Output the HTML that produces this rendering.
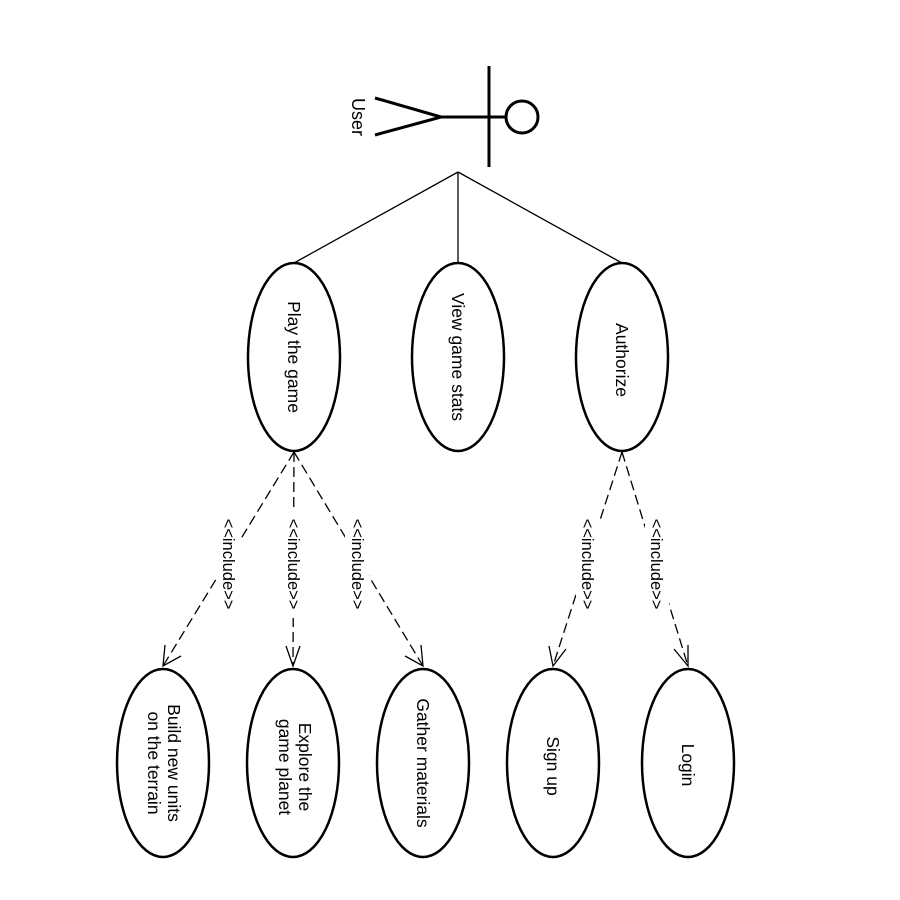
<!DOCTYPE html>
<html><head><style>body{margin:0;background:#fff}svg{display:block}</style></head><body>
<svg width="900" height="900" viewBox="0 0 900 900" xmlns="http://www.w3.org/2000/svg" font-family="Liberation Sans, sans-serif" font-size="17.5">
<rect width="900" height="900" fill="#fff"/>
<g stroke="#000" stroke-width="3" fill="none">
<circle cx="522" cy="117" r="16"/>
<line x1="441" y1="117" x2="506" y2="117"/>
<line x1="489" y1="66" x2="489" y2="167"/>
<line x1="441" y1="117" x2="375" y2="98"/>
<line x1="441" y1="117" x2="375" y2="135"/>
</g>
<text transform="translate(352,117) rotate(90)" text-anchor="middle" font-size="18">User</text>
<g stroke="#000" stroke-width="1.3">
<line x1="458" y1="172" x2="294" y2="263"/>
<line x1="458" y1="172" x2="458" y2="263"/>
<line x1="458" y1="172" x2="622" y2="263"/>
</g>
<g stroke="#000" stroke-width="2.5" fill="#fff">
<ellipse cx="294" cy="357" rx="46" ry="94"/>
<ellipse cx="458" cy="357" rx="46" ry="94"/>
<ellipse cx="622" cy="357" rx="46" ry="94"/>
<ellipse cx="163" cy="763" rx="46" ry="94"/>
<ellipse cx="293" cy="763" rx="46" ry="94"/>
<ellipse cx="423" cy="763" rx="46" ry="94"/>
<ellipse cx="553" cy="763" rx="46" ry="94"/>
<ellipse cx="688" cy="763" rx="46" ry="94"/>
</g>
<g stroke="#000" stroke-width="1.3" stroke-dasharray="10,5" fill="none">
<line x1="294" y1="452" x2="163" y2="666"/>
<line x1="294" y1="452" x2="293" y2="666"/>
<line x1="294" y1="452" x2="423" y2="666"/>
<line x1="622" y1="452" x2="553" y2="666"/>
<line x1="622" y1="452" x2="688" y2="666"/>
</g>
<g fill="#fff">
<rect x="217" y="510" width="24" height="108"/>
<rect x="281" y="510" width="24" height="108"/>
<rect x="345" y="510" width="24" height="108"/>
<rect x="576" y="510" width="24" height="108"/>
<rect x="645" y="510" width="24" height="108"/>
</g>
<g stroke="#000" stroke-width="1.3" fill="none">
<polyline points="165,645 163,666 181,656"/>
<polyline points="286,646 293,666 300,646"/>
<polyline points="405,656 423,666 421,645"/>
<polyline points="549,646 553,666 566,649"/>
<polyline points="674,649 688,666 688,645"/>
</g>
<g font-size="16.5">
<text transform="translate(223,564) rotate(90)" text-anchor="middle">&lt;&lt;include&gt;&gt;</text>
<text transform="translate(288,564) rotate(90)" text-anchor="middle">&lt;&lt;include&gt;&gt;</text>
<text transform="translate(352,564) rotate(90)" text-anchor="middle">&lt;&lt;include&gt;&gt;</text>
<text transform="translate(582,564) rotate(90)" text-anchor="middle">&lt;&lt;include&gt;&gt;</text>
<text transform="translate(651,564) rotate(90)" text-anchor="middle">&lt;&lt;include&gt;&gt;</text>
</g>
<text transform="translate(288,357) rotate(90)" text-anchor="middle">Play the game</text>
<text transform="translate(452,357) rotate(90)" text-anchor="middle">View game stats</text>
<text transform="translate(616,360) rotate(90)" text-anchor="middle">Authorize</text>
<text transform="translate(168,763) rotate(90)" text-anchor="middle">Build new units</text>
<text transform="translate(148,763) rotate(90)" text-anchor="middle">on the terrain</text>
<text transform="translate(299,767) rotate(90)" text-anchor="middle">Explore the</text>
<text transform="translate(279,767) rotate(90)" text-anchor="middle">game planet</text>
<text transform="translate(417,763) rotate(90)" text-anchor="middle">Gather materials</text>
<text transform="translate(547,766) rotate(90)" text-anchor="middle">Sign up</text>
<text transform="translate(682,765) rotate(90)" text-anchor="middle">Login</text>
</svg>
</body></html>
